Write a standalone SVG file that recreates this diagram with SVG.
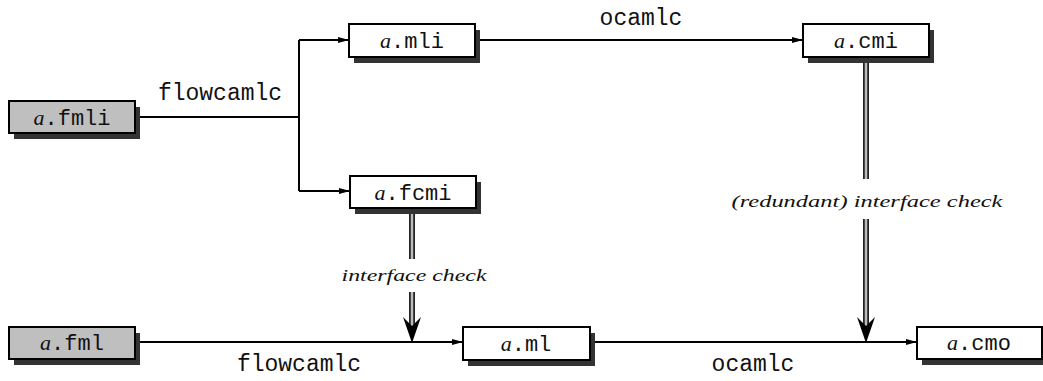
<svg xmlns="http://www.w3.org/2000/svg" width="1043" height="381" viewBox="0 0 1043 381">
<defs>
<marker id="arr" markerWidth="12" markerHeight="8" refX="11" refY="4" orient="auto" markerUnits="userSpaceOnUse">
<path d="M0,1 L11,4 L0,7 Z" fill="#000"/>
</marker>
</defs>
<style>
.shadow{fill:#333;}
.box{fill:#fff;stroke:#000;stroke-width:2;}
.src{fill:#bfbfbf;stroke:#000;stroke-width:2;}
.lbl{font-family:"Liberation Mono",monospace;font-size:22px;fill:#111;text-anchor:middle;}
.a{font-family:"Liberation Serif",serif;font-style:italic;}
.edge{font-family:"Liberation Mono",monospace;font-size:23px;fill:#111;text-anchor:middle;}
.chk{font-family:"Liberation Serif",serif;font-style:italic;font-size:17px;fill:#111;text-anchor:middle;}
.line{fill:none;stroke:#000;stroke-width:2;}
.dblo{fill:none;stroke:#222;stroke-width:6;}
.dbli{fill:none;stroke:#bbb;stroke-width:2.5;}
.head{fill:#000;}
</style>
<g id="connectors">
<path class="line" d="M135,117 H299 V191"/>
<path class="line" d="M299,40 V117"/>
<path class="line" d="M299,40 H349" marker-end="url(#arr)"/>
<path class="line" d="M299,191 H350" marker-end="url(#arr)"/>
<path class="line" d="M475,40 H803" marker-end="url(#arr)"/>
<path class="line" d="M135,342 H463" marker-end="url(#arr)"/>
<path class="line" d="M590,342 H917" marker-end="url(#arr)"/>
<path class="dblo" d="M412,208 V259 M412,292 V326"/>
<path class="dbli" d="M412,208 V259 M412,292 V326"/>
<path class="head" d="M412,343 L403,317 L412,326 L421,317 Z"/>
<path class="dblo" d="M866,57 V179 M866,219 V326"/>
<path class="dbli" d="M866,57 V179 M866,219 V326"/>
<path class="head" d="M866,343 L857,317 L866,326 L875,317 Z"/>
<text class="edge" x="220" y="100">flowcamlc</text>
<text class="edge" x="641" y="25">ocamlc</text>
<text class="edge" x="299" y="371">flowcamlc</text>
<text class="edge" x="753" y="371">ocamlc</text>
<text class="chk" x="414" y="281" textLength="145" lengthAdjust="spacingAndGlyphs">interface check</text>
<text class="chk" x="867" y="207" textLength="271" lengthAdjust="spacingAndGlyphs">(redundant) interface check</text>
</g>
<g id="n_fmli">
<rect class="shadow" x="14" y="107" width="126" height="32"/>
<rect class="src" x="9" y="101" width="126" height="32"/>
<text class="lbl" x="72" y="125"><tspan class="a">a</tspan>.fmli</text>
</g>
<g id="n_mli">
<rect class="shadow" x="354" y="30" width="126" height="33"/>
<rect class="box" x="349" y="24" width="126" height="33"/>
<text class="lbl" x="412" y="48"><tspan class="a">a</tspan>.mli</text>
</g>
<g id="n_cmi">
<rect class="shadow" x="808" y="30" width="126" height="33"/>
<rect class="box" x="803" y="24" width="126" height="33"/>
<text class="lbl" x="866" y="48"><tspan class="a">a</tspan>.cmi</text>
</g>
<g id="n_fcmi">
<rect class="shadow" x="355" y="182" width="126" height="32"/>
<rect class="box" x="350" y="176" width="126" height="32"/>
<text class="lbl" x="413" y="200"><tspan class="a">a</tspan>.fcmi</text>
</g>
<g id="n_fml">
<rect class="shadow" x="14" y="333" width="126" height="32"/>
<rect class="src" x="9" y="327" width="126" height="32"/>
<text class="lbl" x="72" y="350"><tspan class="a">a</tspan>.fml</text>
</g>
<g id="n_ml">
<rect class="shadow" x="468" y="333" width="127" height="33"/>
<rect class="box" x="463" y="327" width="127" height="33"/>
<text class="lbl" x="526" y="351"><tspan class="a">a</tspan>.ml</text>
</g>
<g id="n_cmo">
<rect class="shadow" x="922" y="333" width="126" height="32"/>
<rect class="box" x="917" y="327" width="125" height="32"/>
<text class="lbl" x="979" y="350"><tspan class="a">a</tspan>.cmo</text>
</g>
</svg>
